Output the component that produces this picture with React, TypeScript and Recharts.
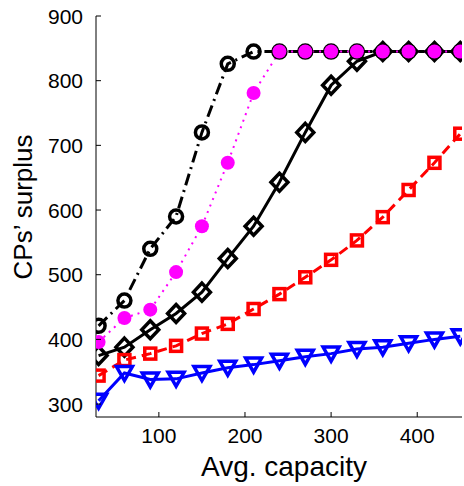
import { LineChart, Line, XAxis, YAxis, Label } from 'recharts'

// capacity values on the x axis
const capacity = [30, 60, 90, 120, 150, 180, 210, 240, 270, 300, 330, 360, 390, 420, 450]

// CPs' surplus for each scheme
const circleSeries = [421, 460, 540, 590, 720, 826, 845, 845, 845, 845, 845, 845, 845, 845, 845]
const dotSeries = [396, 433, 446, 504, 575, 673, 781, 845, 845, 845, 845, 845, 845, 845, 845]
const diamondSeries = [375, 388, 415, 440, 473, 525, 575, 643, 720, 793, 830, 845, 845, 845, 845]
const squareSeries = [344, 368, 378, 390, 409, 424, 447, 470, 496, 523, 553, 589, 631, 673, 718]
const triangleSeries = [305, 348, 338, 339, 348, 356, 361, 367, 373, 378, 385, 388, 394, 400, 405]

const xTicks = [100, 200, 300, 400]
const yTicks = [300, 400, 500, 600, 700, 800, 900]

const data = capacity.map((x, i) => ({
  x,
  circ: circleSeries[i],
  dot: dotSeries[i],
  diam: diamondSeries[i],
  sq: squareSeries[i],
  tri: triangleSeries[i],
}))

const FONT = '"Liberation Sans", Arial, Helvetica, sans-serif'

const openCircle = (p: any) => (
  <circle key={p.index} cx={p.cx} cy={p.cy} r={6.5} fill="none" stroke="#000" strokeWidth={3.5} />
)
const filledDot = (p: any) => <circle key={p.index} cx={p.cx} cy={p.cy} r={7} fill="#ff00ff" stroke="none" />
const diamond = (p: any) => (
  <polygon
    key={p.index}
    points={`${p.cx},${p.cy - 9} ${p.cx + 8.5},${p.cy} ${p.cx},${p.cy + 9} ${p.cx - 8.5},${p.cy}`}
    fill="none"
    stroke="#000"
    strokeWidth={3.5}
  />
)
const square = (p: any) => (
  <rect key={p.index} x={p.cx - 5.5} y={p.cy - 5.5} width={11} height={11} fill="none" stroke="#ff0000" strokeWidth={3.5} />
)
const triangle = (p: any) => (
  <polygon
    key={p.index}
    points={`${p.cx - 8},${p.cy - 6.5} ${p.cx + 8},${p.cy - 6.5} ${p.cx},${p.cy + 7.5}`}
    fill="none"
    stroke="#0000ff"
    strokeWidth={3.5}
  />
)

const LeftTick = (p: any) => (
  <g>
    <line x1={p.x} x2={p.x + 5} y1={p.y} y2={p.y} stroke="#000" />
    <text x={p.x - 13} y={p.y} textAnchor="end" dominantBaseline="central" fontSize={21} fontFamily={FONT} fill="#000">
      {p.payload.value}
    </text>
  </g>
)
const BottomTick = (p: any) => (
  <g>
    <line x1={p.x} x2={p.x} y1={p.y} y2={p.y - 5} stroke="#000" />
    <text x={p.x} y={p.y + 26} textAnchor="middle" fontSize={21} fontFamily={FONT} fill="#000">
      {p.payload.value}
    </text>
  </g>
)
const TopTick = (p: any) => <line x1={p.x} x2={p.x} y1={p.y} y2={p.y + 5} stroke="#000" />
const RightTick = (p: any) => <line x1={p.x} x2={p.x - 5} y1={p.y} y2={p.y} stroke="#000" />

export default function App() {
  return (
    <div style={{ width: 464, height: 486, background: '#fff' }}>
      <style>{'body{margin:0}'}</style>
      <LineChart width={464} height={486} data={data} margin={{ top: 16, right: 2, bottom: 0, left: 0 }}>
        <XAxis
          dataKey="x"
          type="number"
          domain={[27, 452]}
          ticks={xTicks}
          allowDataOverflow
          height={69}
          tickSize={0}
          tickMargin={0}
          tickLine={false}
          axisLine={{ stroke: '#000' }}
          tick={BottomTick}
        >
          <Label
            content={() => (
              <text x={284} y={476} textAnchor="middle" fontSize={28} fontFamily={FONT} fill="#000">
                Avg. capacity
              </text>
            )}
          />
        </XAxis>
        <XAxis
          xAxisId="top"
          dataKey="x"
          type="number"
          orientation="top"
          domain={[27, 452]}
          ticks={xTicks}
          allowDataOverflow
          height={0}
          tickSize={0}
          tickMargin={0}
          tickLine={false}
          axisLine={{ stroke: '#000' }}
          tick={TopTick}
        />
        <YAxis
          type="number"
          domain={[280, 900]}
          ticks={yTicks}
          allowDataOverflow
          width={96}
          tickSize={0}
          tickMargin={0}
          tickLine={false}
          axisLine={{ stroke: '#000' }}
          tick={LeftTick}
        >
          <Label
            content={() => (
              <text
                x={32}
                y={207}
                transform="rotate(-90 32 207)"
                textAnchor="middle"
                fontSize={26}
                fontFamily={FONT}
                fill="#000"
              >
                CPs’ surplus
              </text>
            )}
          />
        </YAxis>
        <YAxis
          yAxisId="right"
          type="number"
          orientation="right"
          domain={[280, 900]}
          ticks={yTicks}
          allowDataOverflow
          width={0}
          tickSize={0}
          tickMargin={0}
          tickLine={false}
          axisLine={{ stroke: '#000' }}
          tick={RightTick}
        />
        <Line
          type="linear"
          dataKey="circ"
          stroke="#000"
          strokeWidth={3}
          strokeDasharray="12 5 2 5"
          dot={openCircle}
          activeDot={false}
          isAnimationActive={false}
        />
        <Line
          type="linear"
          dataKey="diam"
          stroke="#000"
          strokeWidth={3}
          dot={diamond}
          activeDot={false}
          isAnimationActive={false}
        />
        <Line
          type="linear"
          dataKey="sq"
          stroke="#ff0000"
          strokeWidth={3}
          strokeDasharray="10 6"
          dot={square}
          activeDot={false}
          isAnimationActive={false}
        />
        <Line
          type="linear"
          dataKey="tri"
          stroke="#0000ff"
          strokeWidth={3}
          dot={triangle}
          activeDot={false}
          isAnimationActive={false}
        />
        <Line
          type="linear"
          dataKey="dot"
          stroke="#ff00ff"
          strokeWidth={2}
          strokeDasharray="2 5"
          dot={filledDot}
          activeDot={false}
          isAnimationActive={false}
        />
      </LineChart>
    </div>
  )
}
